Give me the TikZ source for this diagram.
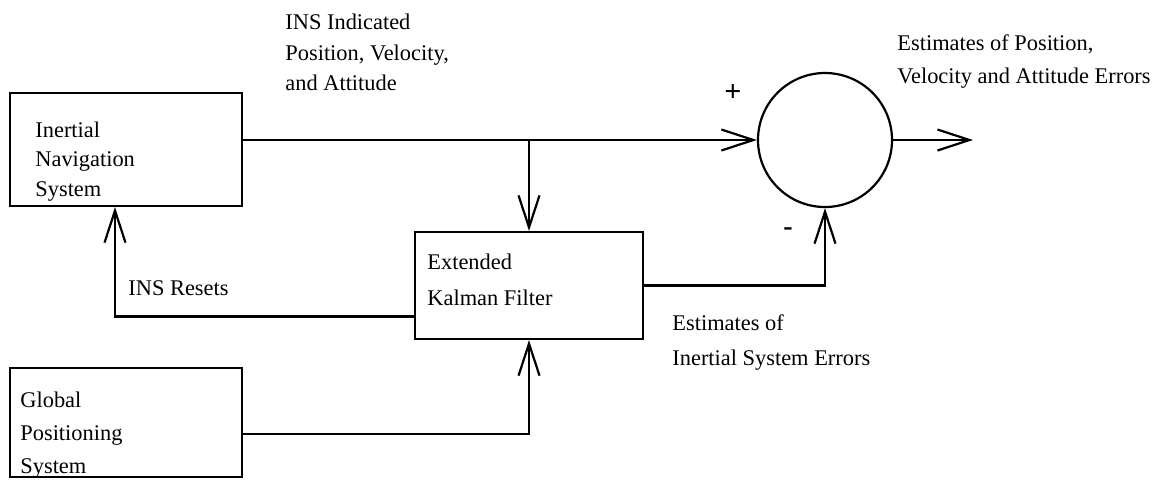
\documentclass[tikz,border=0pt]{standalone}
\usepackage{fontspec}
\setmainfont{Liberation Serif}
\usetikzlibrary{arrows.meta,positioning}
\tikzset{
  blk/.style={rectangle, draw=black, line width=1.1pt, inner sep=0pt},
  sumc/.style={circle, draw=black, line width=1.1pt, minimum size=67pt, inner sep=0pt},
  txt/.style={anchor=west, inner sep=0pt, align=left, font=\fontsize{11.2}{15}\selectfont},
  sarr/.style={-{Straight Barb[length=16pt,width=10.5pt,line width=1.1pt]}, line width=1.1pt},
}
\begin{document}
\begin{tikzpicture}[x=0.5pt,y=-0.5pt]
    \useasboundingbox (0,0) rectangle (1154,479);
    \node[blk,minimum width=116pt,minimum height=56.5pt](ins) at (126,149.5){};
    \node[blk,minimum width=114pt,minimum height=53.5pt](ekf) at (529,285.5){};
    \node[blk,minimum width=116pt,minimum height=54.5pt](gps) at (126,422.5){};
    \node[sumc](sum) at (825,140){};
    \coordinate (out) at (973,140);
    % texts
    \node[txt,font=\fontsize{11.2}{14.75}\selectfont](tins) at (35,161.5){Inertial\\Navigation\\System};
    \node[txt,font=\fontsize{11.2}{18}\selectfont](tekf) at (427,280){Extended\\Kalman Filter};
    \node[txt,font=\fontsize{11.2}{16.5}\selectfont](tgps) at (20,435){Global\\Positioning\\System};
    \node[txt,font=\fontsize{11.2}{15.25}\selectfont](tind) at (285,52.5){INS Indicated\\Position, Velocity,\\and Attitude};
    \node[txt,font=\fontsize{11.2}{16.5}\selectfont](test) at (897,61.5){Estimates of Position,\\Velocity and Attitude Errors};
    \node[txt](tres) at (128,288){INS Resets};
    \node[txt,font=\fontsize{11.2}{17.5}\selectfont](terr) at (672,342.5){Estimates of\\Inertial System Errors};
    \node[txt,font=\fontsize{15}{17}\bfseries](plus) at (724,93){+};
    \node[txt,font=\fontsize{14}{16}\bfseries](minus) at (783,232){-};
    % connectors
    \draw[sarr](ins.east |- sum.west)--(sum.west);
    \draw[sarr](ekf.north |- sum.west)--(ekf.north);
    \draw[sarr](ekf.east)-|(sum.south);
    \draw[sarr]([yshift=-15.5pt]ekf.west)-|([xshift=-5.5pt]ins.south);
    \draw[sarr]([yshift=-5.75pt]gps.east)-|(ekf.south);
    \draw[sarr](sum.east)--(out);
  \end{tikzpicture}
\end{document}
